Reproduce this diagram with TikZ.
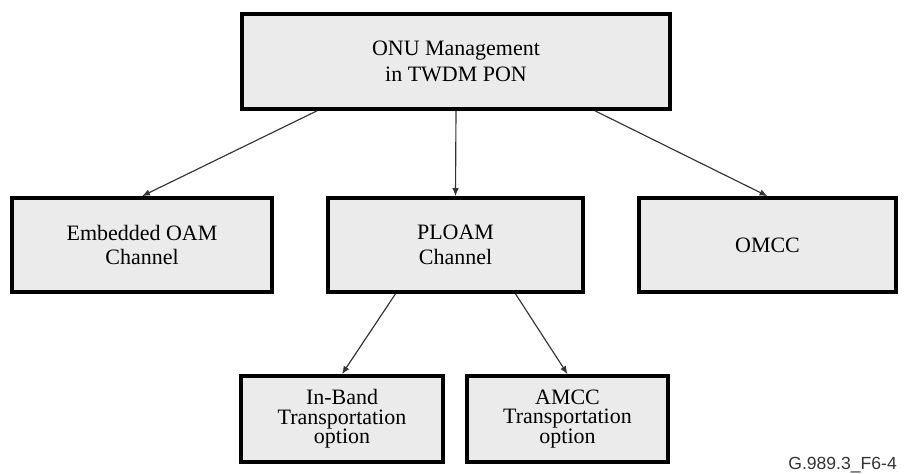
\documentclass[tikz,border=0pt]{standalone}
\usepackage{fontspec}
\setmainfont{Liberation Serif}
\newfontfamily\labelfont{Liberation Sans}
\usetikzlibrary{arrows.meta,calc}
\definecolor{OnuGrey}{HTML}{EBEBEB}
\definecolor{OnuLine}{HTML}{333333}

\begin{document}
\begin{tikzpicture}[
  OnuBox/.style={draw,line width=2.1pt,fill=OnuGrey,align=center,inner sep=0pt,font=\fontsize{12.5}{15}\selectfont},
  OnuArrow/.style={OnuLine,line width=.65pt,-{Latex[length=1.6mm,width=1.3mm]}}]
  \useasboundingbox (0,0) rectangle (18.12,9.48);
  \node[OnuBox,minimum width=8.56cm,minimum height=1.9cm] (mgmt) at (9.12,8.25) {ONU Management\\in TWDM PON};
  \node[OnuBox,minimum width=5.2cm,minimum height=1.88cm,font=\fontsize{12.5}{14}\selectfont] (oam) at (2.84,4.58) {Embedded OAM\\Channel};
  \node[OnuBox,minimum width=5.1cm,minimum height=1.88cm,font=\fontsize{12.5}{14}\selectfont] (ploam) at (9.11,4.58) {PLOAM\\Channel};
  \node[OnuBox,minimum width=5.14cm,minimum height=1.88cm] (omcc) at (15.35,4.58) {OMCC};
  \node[OnuBox,minimum width=4.04cm,minimum height=1.72cm,font=\fontsize{12.5}{11}\selectfont] (inband) at (6.84,1.1) {In-Band\\Transportation\\option};
  \node[OnuBox,minimum width=4.02cm,minimum height=1.72cm,font=\fontsize{12.5}{11}\selectfont] (amcc) at (11.35,1.1) {AMCC\\Transportation\\option};
  \node[anchor=east,font=\labelfont\fontsize{10}{12}\selectfont,text=OnuLine] (figid) at (18.06,0.18) {G.989.3\_F6-4};
  % management branches
  \draw[OnuArrow] ([xshift=-2.78cm]mgmt.south) -- (oam.north);
  \draw[OnuArrow] (mgmt.south) -- (ploam.north);
  \draw[OnuArrow] ([xshift=2.78cm]mgmt.south) -- (omcc.north);
  % transport options
  \draw[OnuArrow] ([xshift=-1.2cm]ploam.south) -- (inband.north);
  \draw[OnuArrow] ([xshift=1.2cm]ploam.south) -- (amcc.north);
\end{tikzpicture}
\end{document}
